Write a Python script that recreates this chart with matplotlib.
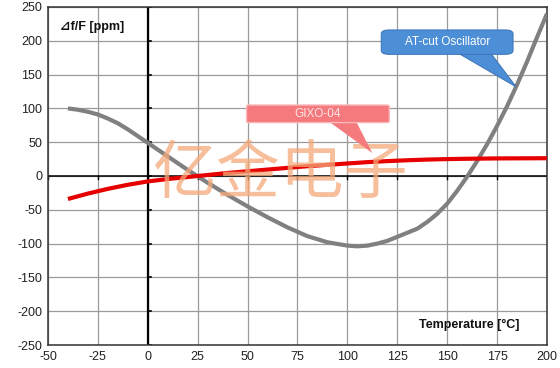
import matplotlib
matplotlib.use("Agg")
import matplotlib.pyplot as plt
from matplotlib.patches import FancyBboxPatch, Polygon

# Frequency deviation vs temperature
temp_at = [-40, -35, -30, -25, -20, -15, -10, -5, 0, 10, 20, 30, 40, 50, 60,
           70, 80, 90, 100, 105, 110, 115, 120, 125, 130, 135, 140, 145, 150,
           155, 160, 165, 170, 175, 180, 185, 190, 195, 200]
ppm_at = [100, 98, 95, 91, 85, 78, 69, 59, 49, 29, 9, -10, -28, -45, -61,
          -76, -89, -98, -103, -104, -103, -100, -96, -90, -84, -78, -68, -56, -41,
          -22, -1, 22, 47, 74, 103, 135, 169, 205, 240]

temp_gixo = [-40, -30, -20, -10, 0, 10, 20, 30, 40, 50, 60, 70, 80, 90, 100,
             110, 120, 130, 140, 150, 160, 175, 200]
ppm_gixo = [-34, -26, -19, -13, -8, -4.5, -1.5, 1.5, 4.5, 7, 9.5, 12, 14.5, 16.5, 18.5,
            20.5, 22, 23.3, 24.3, 25, 25.5, 26, 26.3]

x_ticks = [-50, -25, 0, 25, 50, 75, 100, 125, 150, 175, 200]
y_ticks = [-250, -200, -150, -100, -50, 0, 50, 100, 150, 200, 250]

FONT = ["Liberation Sans", "DejaVu Sans"]
plt.rcParams["font.family"] = FONT

fig = plt.figure(figsize=(5.6, 3.68), dpi=100)
ax = fig.add_axes([0.0857, 0.0625, 0.891, 0.9185])

ax.set_xlim(-50, 200)
ax.set_ylim(-250, 250)
ax.set_xticks(x_ticks)
ax.set_yticks(y_ticks)
ax.set_xticklabels([str(v) for v in x_ticks])
ax.set_yticklabels([str(v) for v in y_ticks])
ax.tick_params(length=0, labelsize=9, pad=4, colors="#222222")
ax.grid(True, color="#9a9a9a", linewidth=0.9)
ax.set_axisbelow(True)
for s in ax.spines.values():
    s.set_color("#333333")
    s.set_linewidth(1.1)

# black zero axes with little tick marks
ax.axhline(0, color="black", linewidth=1.1, zorder=1.5)
ax.axvline(0, color="black", linewidth=1.6, zorder=1.5)
for yv in y_ticks:
    ax.plot([0, 1.5], [yv, yv], color="black", linewidth=1.2, zorder=1.6)
for xv in x_ticks:
    ax.plot([xv, xv], [0, -4], color="black", linewidth=1.0, zorder=1.6)

ax.plot(temp_at, ppm_at, color="#808080", linewidth=3.0, solid_capstyle="butt",
        solid_joinstyle="round", zorder=3)
ax.plot(temp_gixo, ppm_gixo, color="#e60000", linewidth=3.0, solid_capstyle="butt",
        solid_joinstyle="round", zorder=3)

# watermark
ax.text(66, 2, "亿金电子", fontsize=46, color="#f4a97a", alpha=0.75,
        ha="center", va="center", family=["Noto Sans CJK SC", "DejaVu Sans"], zorder=4)

# callout: AT-cut oscillator
ax.add_patch(Polygon([(156, 181), (172, 181), (184.5, 132)], closed=True,
                     facecolor="#4d8fd6", edgecolor="#3f78bb", linewidth=0.8, zorder=5))
ax.add_patch(FancyBboxPatch((117, 180), 66, 36, boxstyle="round,pad=0,rounding_size=4",
                            mutation_aspect=1.4, facecolor="#4d8fd6", edgecolor="#3f78bb",
                            linewidth=0.8, zorder=5))
ax.text(150, 198, "AT-cut Oscillator", fontsize=8.5, color="white",
        ha="center", va="center", zorder=6)

# callout: GIXO-04
ax.add_patch(Polygon([(91, 80), (104.5, 80), (112.5, 34)], closed=True,
                     facecolor="#f47a7e", edgecolor="none", zorder=5))
ax.add_patch(FancyBboxPatch((49.5, 79), 71.5, 26, boxstyle="round,pad=0,rounding_size=1.5",
                            facecolor="#f47a7e", edgecolor="#f9b8ba", linewidth=1.0, zorder=5))
ax.text(85, 92, "GIXO-04", fontsize=8.5, color="#fde4e4",
        ha="center", va="center", zorder=6)

ax.text(-44, 220, "⊿f/F [ppm]", fontsize=9, fontweight="bold", color="#111111",
        ha="left", va="center", zorder=6)
ax.text(186, -220, "Temperature [°C]", fontsize=9, fontweight="bold", color="#111111",
        ha="right", va="center", zorder=6)

fig.savefig("out.png", dpi=100)
